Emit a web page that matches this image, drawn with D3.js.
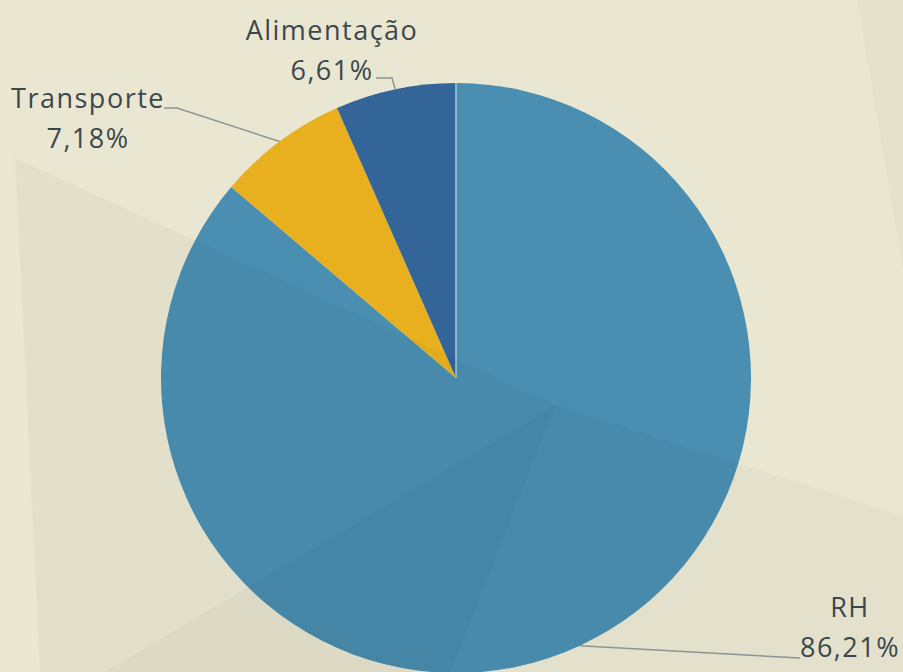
<!DOCTYPE html>
<html>
<head>
<meta charset="utf-8">
<script src="https://cdn.jsdelivr.net/npm/d3@7"></script>
<style>
  html, body { margin: 0; padding: 0; background: #E9E7D1; }
  svg { display: block; }
  .lbl { font-family: "Open Sans", sans-serif; font-size: 27px; fill: #3C474D; letter-spacing: 1.5px; }
</style>
</head>
<body>
<div id="viz"></div>
<script>
var width = 903;
var height = 672;
var radius = 295;
var cx = 456, cy = 378;

// data
var categories = ["RH", "Transporte", "Alimentação"];
var values = [86.21, 7.18, 6.61];
var valueLabels = ["86,21%", "7,18%", "6,61%"];

var colors = d3.scaleOrdinal()
	.domain(categories)
	.range(["#4A8EB1", "#E8B01F", "#336599"]);

// label layout: text centre, baseline of name, leader elbow and end
var labelLayout = {
	"RH":          { x: 850, y: 617, elbow: [800, 658], end: [800, 658] },
	"Transporte":  { x: 88,  y: 108, elbow: [177, 108], end: [164, 108] },
	"Alimentação": { x: 332, y: 40,  elbow: [392, 78],  end: [376, 78] }
};

var svg = d3.select("#viz").append("svg")
	.attr("width", width)
	.attr("height", height);

svg.append("rect")
	.attr("width", width)
	.attr("height", height)
	.style("fill", "#E9E7D1");

var g = svg.append("g")
	.attr("transform", "translate(" + cx + "," + cy + ")");

var pie = d3.pie()
	.sort(null)
	.value(function(d) { return d.value; });

var data = categories.map(function(c, i) {
	return { name: c, value: values[i], label: valueLabels[i] };
});

var arcs = pie(data);

var arc = d3.arc()
	.innerRadius(0)
	.outerRadius(radius);

var edgeArc = d3.arc()
	.innerRadius(radius)
	.outerRadius(radius);

g.selectAll(".slice")
		.data(arcs)
	.enter().append("path")
		.attr("class", "slice")
		.attr("d", arc)
		.style("fill", function(d) { return colors(d.data.name); });

// light separator at the start angle
g.append("line")
	.attr("x1", 0).attr("y1", 0)
	.attr("x2", radius * Math.sin(arcs[0].startAngle))
	.attr("y2", -radius * Math.cos(arcs[0].startAngle))
	.style("stroke", "#A9C9DB")
	.style("stroke-width", 1.5);

// faint facet overlay of the background texture
var facets = [
	{ pts: [[556,405],[15,158],[40,672],[104,672]], a: 0.026 },
	{ pts: [[556,405],[104,672],[450,672]], a: 0.055 },
	{ pts: [[556,405],[450,672],[903,672],[903,516]], a: 0.024 },
	{ pts: [[857,0],[903,0],[903,270]], a: 0.018 }
];
svg.selectAll(".facet")
		.data(facets)
	.enter().append("polygon")
		.attr("class", "facet")
		.attr("points", function(d) { return d.pts.join(" "); })
		.style("fill", "#000")
		.style("opacity", function(d) { return d.a; })
		.style("pointer-events", "none");

svg.append("polygon")
	.attr("points", [[0,0],[25,0],[15,158],[40,672],[0,672]].join(" "))
	.style("fill", "#fff")
	.style("opacity", 0.06);

// leader lines
arcs.forEach(function(d) {
	var p = edgeArc.centroid(d);
	var lay = labelLayout[d.data.name];
	var pts = [[cx + p[0], cy + p[1]], lay.elbow, lay.end];
	svg.append("path")
		.attr("d", d3.line()(pts))
		.style("fill", "none")
		.style("stroke", "#8C9494")
		.style("stroke-width", 1.5);
});

// labels
arcs.forEach(function(d) {
	var lay = labelLayout[d.data.name];
	var t = svg.append("text")
		.attr("class", "lbl")
		.attr("text-anchor", "middle");
	t.append("tspan")
		.attr("x", lay.x)
		.attr("y", lay.y)
		.text(d.data.name);
	t.append("tspan")
		.attr("x", lay.x)
		.attr("y", lay.y + 40)
		.text(d.data.label);
});
</script>
</body>
</html>
